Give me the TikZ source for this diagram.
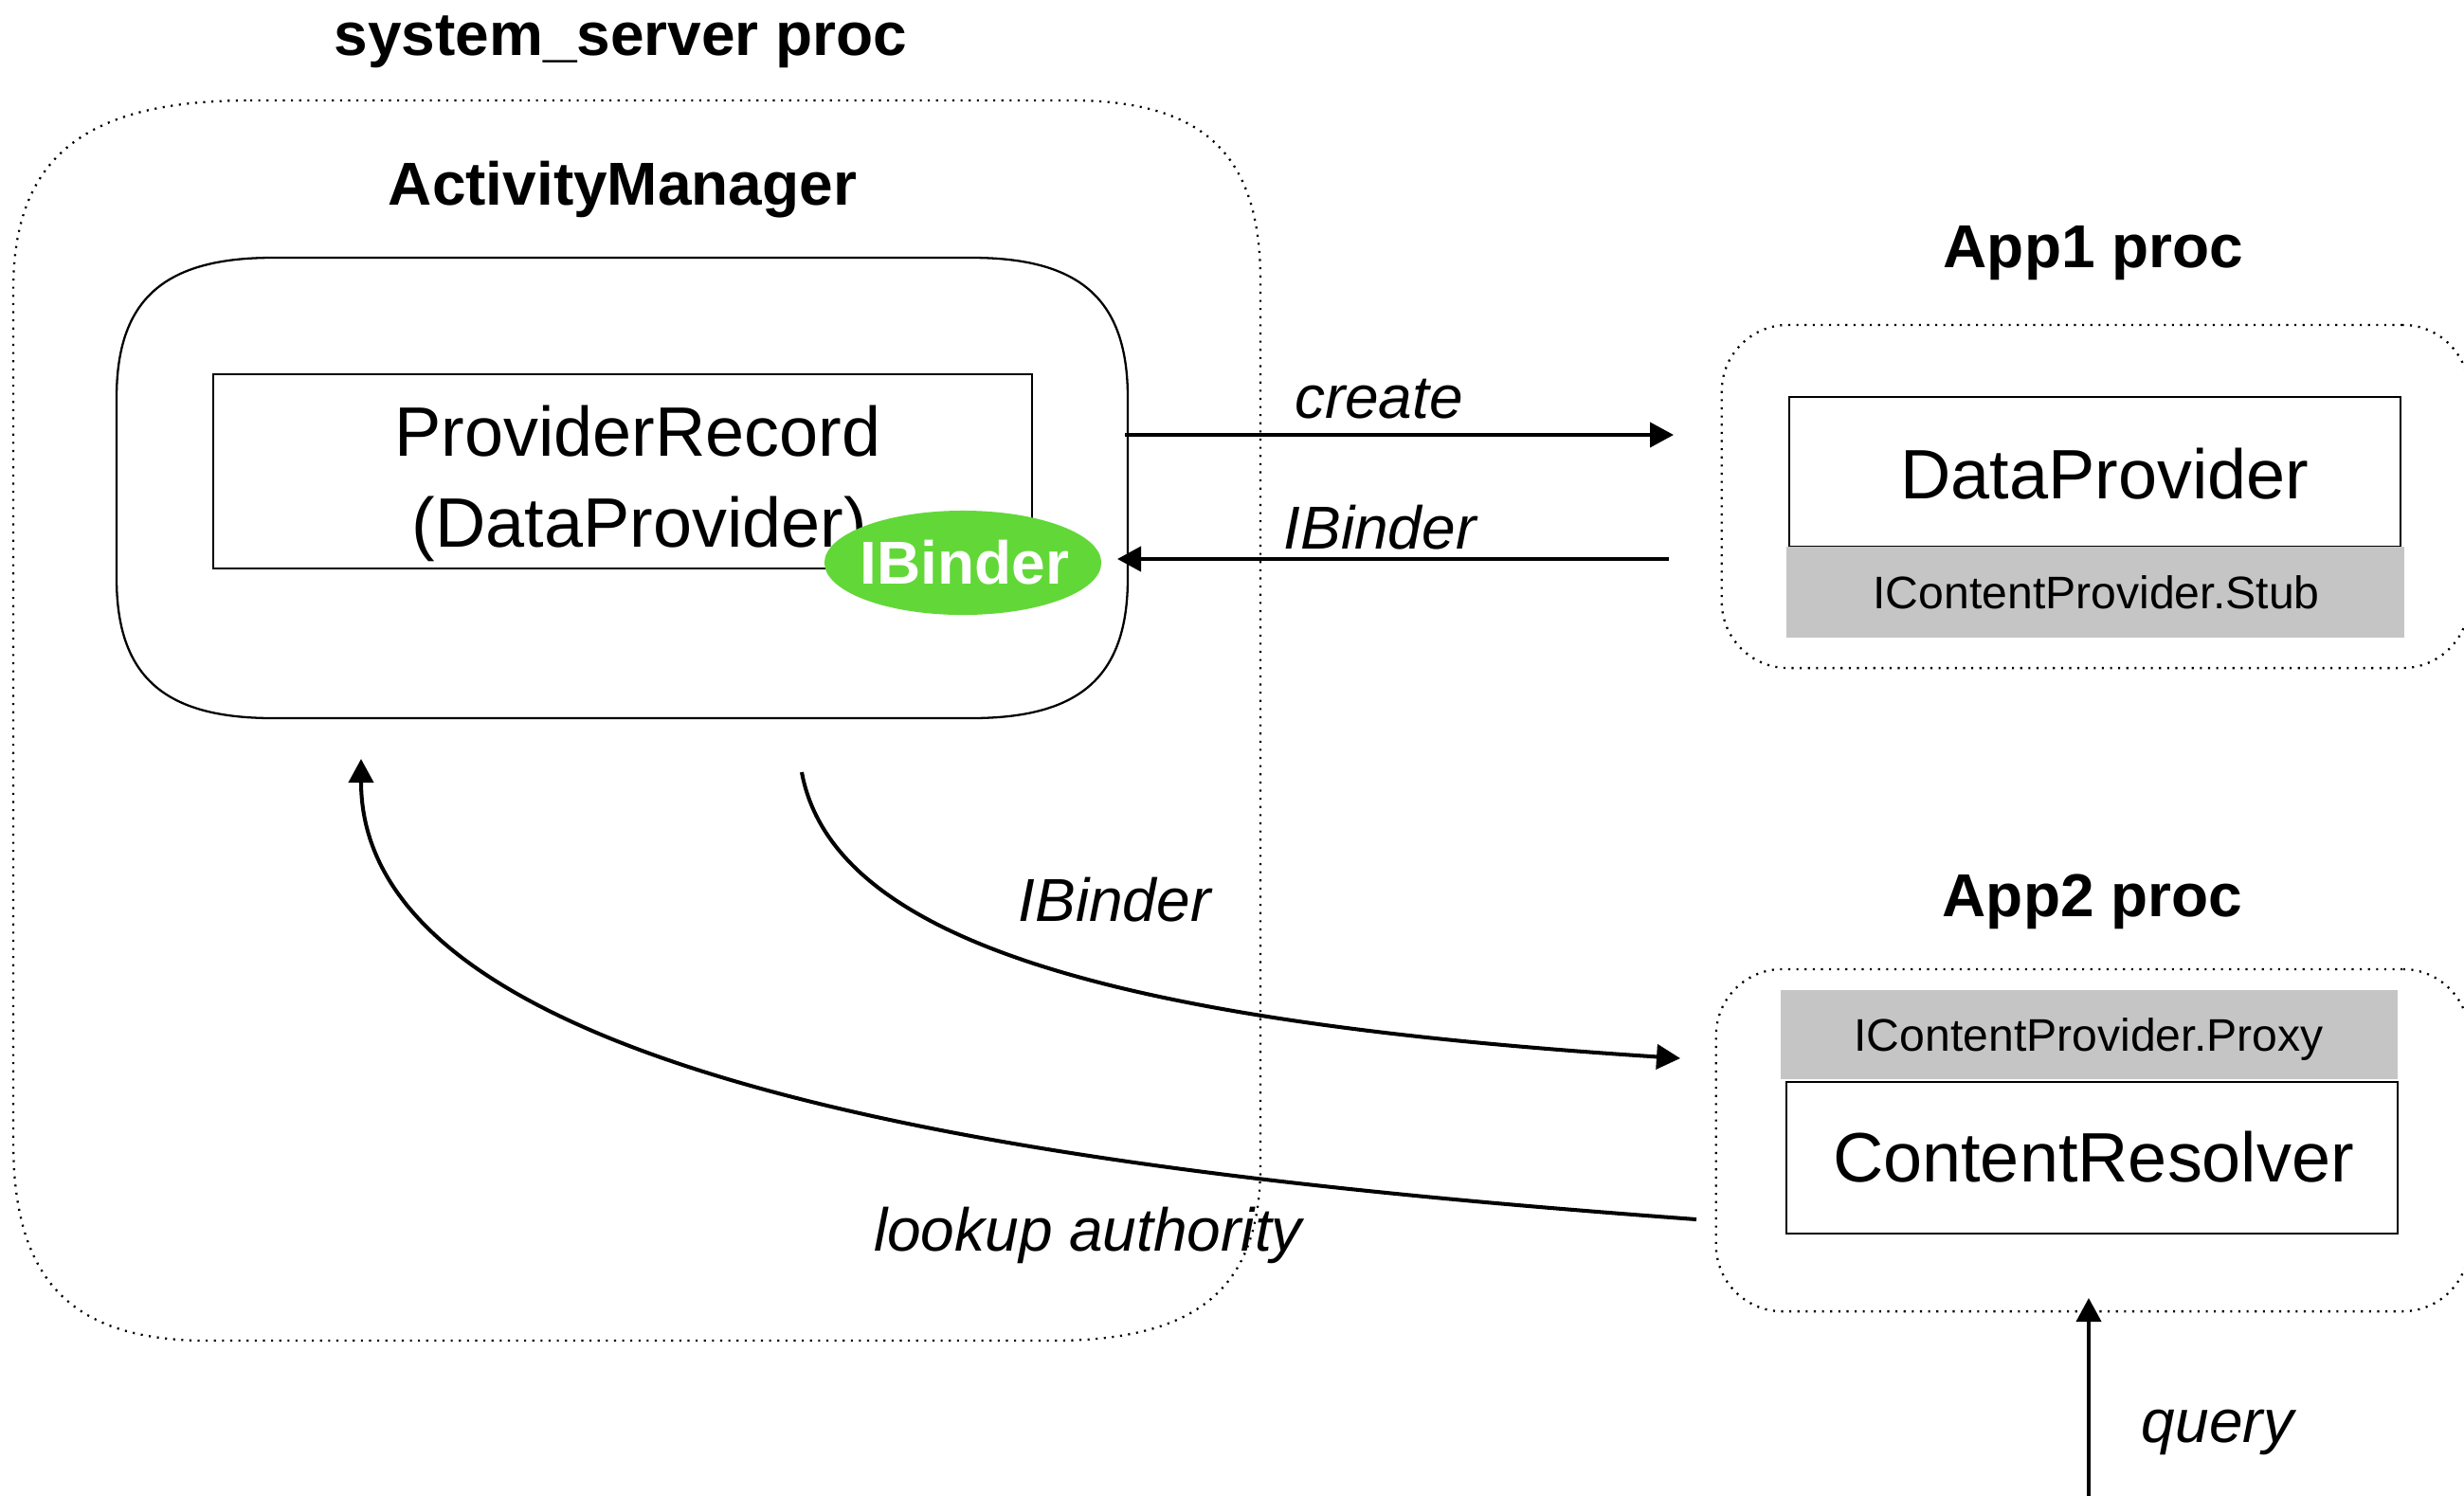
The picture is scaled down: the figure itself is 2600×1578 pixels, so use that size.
\documentclass[tikz,border=0pt]{standalone}
\usepackage{fontspec}
\setmainfont{Liberation Sans}
\usetikzlibrary{arrows.meta,shapes.geometric}
\definecolor{bindergreen}{HTML}{62D838}
\definecolor{stubgray}{HTML}{C4C5C4}
\begin{document}
\begin{tikzpicture}[x=0.01cm,y=-0.01cm,
  titletext/.style={font=\fontsize{18.2}{22}\selectfont\bfseries, anchor=base, inner sep=0pt},
  lbltext/.style={font=\fontsize{18.2}{22}\selectfont\itshape, anchor=base, inner sep=0pt},
  bigtext/.style={font=\fontsize{21}{25}\selectfont, anchor=base, inner sep=0pt},
  smalltext/.style={font=\fontsize{13.7}{16}\selectfont, anchor=base, inner sep=0pt},
  dotline/.style={line width=0.65pt, dash pattern=on 0.6pt off 1.85pt},
  procbox/.style={draw, dotline, inner sep=0pt},
  plainbox/.style={draw, line width=0.6pt, inner sep=0pt},
  graybox/.style={fill=stubgray, inner sep=0pt},
  conn/.style={line width=1.15pt, -{Triangle[length=0.25cm,width=0.26cm]}}
]
\clip (0,0) rectangle (2600,1578);
\fill[white] (0,0) rectangle (2600,1578);

% system_server process (outline drawn as a squircle-like rounded box)
\node[inner sep=0pt, minimum width=13.16cm, minimum height=13.09cm] (ss) at (672,760.5) {};
\draw[dotline] (264,106) -- (1130,106)
  .. controls (1270,106) and (1330,163) .. (1330,296)
  -- (1330,1230)
  .. controls (1330,1359.5) and (1264,1415) .. (1110,1415)
  -- (219,1415)
  .. controls (75.5,1415) and (14,1352) .. (14,1205)
  -- (14,306)
  .. controls (14,166) and (89,106) .. (264,106) -- cycle;
\node[titletext] (sstitle) at (655,58) {system\_server proc};
\node[titletext] (amtitle) at (657,216) {ActivityManager};

% ActivityManager box
\node[inner sep=0pt, minimum width=10.67cm, minimum height=4.86cm] (am) at (656.5,515) {};
\draw[line width=0.65pt] (288,272) -- (1025,272)
  .. controls (1140.5,272) and (1190,316.4) .. (1190,420)
  -- (1190,610)
  .. controls (1190,713.6) and (1140.5,758) .. (1025,758)
  -- (288,758)
  .. controls (172.5,758) and (123,713.6) .. (123,610)
  -- (123,420)
  .. controls (123,316.4) and (172.5,272) .. (288,272) -- cycle;
\node[plainbox, minimum width=8.64cm, minimum height=2.05cm] (pr) at (657,497.5) {};
\node[bigtext] (pr1) at (673,481) {ProviderRecord};
\node[bigtext] (pr2) at (675,577) {(DataProvider)};
\node[ellipse, fill=bindergreen, minimum width=2.92cm, minimum height=1.10cm, inner sep=0pt] (ib) at (1016,594) {};
\node[titletext, text=white] (ibt) at (1018,616) {IBinder};

% App1 process
\node[titletext] (app1title) at (2209,282) {App1 proc};
\node[procbox, rounded corners=0.7cm, minimum width=7.88cm, minimum height=3.62cm] (app1) at (2211,524) {};
\node[plainbox, minimum width=6.45cm, minimum height=1.58cm] (dp) at (2210.5,498) {};
\node[bigtext] (dpt) at (2221,526) {DataProvider};
\node[graybox, minimum width=6.52cm, minimum height=0.96cm] (stub) at (2211,625) {};
\node[smalltext] (stubt) at (2212,642) {IContentProvider.Stub};

% App2 process
\node[titletext] (app2title) at (2208,967) {App2 proc};
\node[procbox, rounded corners=0.7cm, minimum width=7.94cm, minimum height=3.61cm] (app2) at (2208,1203.5) {};
\node[graybox, minimum width=6.51cm, minimum height=0.94cm] (proxy) at (2204.5,1092) {};
\node[smalltext] (proxyt) at (2204,1109) {IContentProvider.Proxy};
\node[plainbox, minimum width=6.45cm, minimum height=1.60cm] (cr) at (2207.5,1222) {};
\node[bigtext] (crt) at (2209,1247) {ContentResolver};

% connector end points
\coordinate (cs) at (1187,459);
\coordinate (ce) at (1766,459);
\coordinate (bs) at (1761,590);
\coordinate (be) at (1179,590);
\coordinate (ps) at (846,815);
\coordinate (pe) at (1773,1117);
\coordinate (ls) at (1790,1287);
\coordinate (le) at (381,801);
\coordinate (qs) at (2204,1590);
\coordinate (qe) at (2204,1370);

\draw[conn] (cs) -- (ce);
\draw[conn] (bs) -- (be);
\draw[conn] (ps) .. controls (880,1000) and (1200,1080) .. (pe);
\draw[conn] (ls) .. controls (1150,1240) and (381,1150) .. (le);
\draw[conn] (qs) -- (qe);

% labels
\node[lbltext] (lcreate) at (1455,441) {create};
\node[lbltext] (lib1) at (1456,579) {IBinder};
\node[lbltext] (lib2) at (1176,972) {IBinder};
\node[lbltext] (llook) at (1148,1320) {lookup authority};
\node[lbltext] (lquery) at (2340,1522) {query};
\end{tikzpicture}
\end{document}
